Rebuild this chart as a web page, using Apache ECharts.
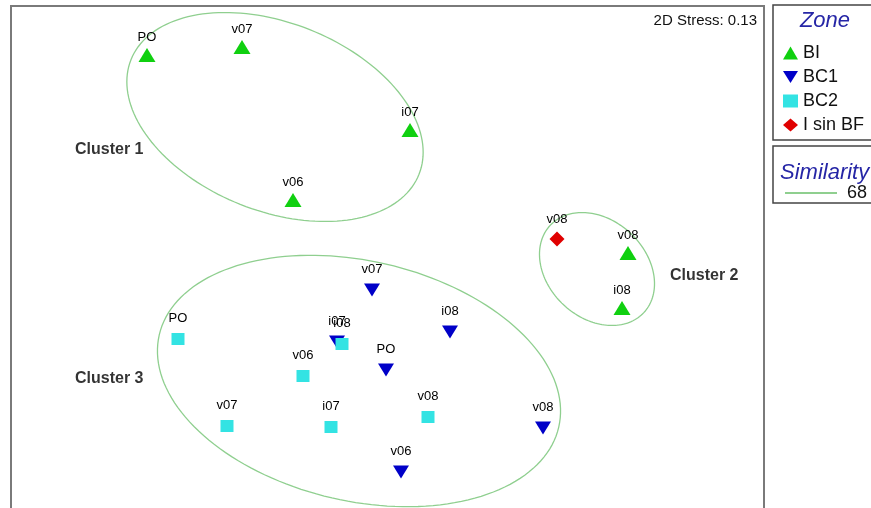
<!DOCTYPE html>
<html>
<head>
<meta charset="utf-8">
<script src="https://cdn.jsdelivr.net/npm/echarts@6/dist/echarts.min.js"></script>
<style>
html,body{margin:0;padding:0;background:#fff;}
#chart{width:871px;height:508px;}
</style>
</head>
<body>
<div id="chart"></div>
<script>
// MDS ordination coordinates (arbitrary units, y grows downward)
const biNames = ['PO', 'v07', 'i07', 'v06', 'v08', 'i08'];
const biX = [136, 231, 399, 282, 617, 611];
const biY = [49, 41, 124, 194, 247, 302];

const bc1Names = ['v07', 'i08', 'i07', 'PO', 'v08', 'v06'];
const bc1X = [361, 439, 326, 375, 532, 390];
const bc1Y = [284, 326, 336, 364, 422, 466];

const bc2Names = ['PO', 'i08', 'v06', 'v07', 'i07', 'v08'];
const bc2X = [167, 331, 292, 216, 320, 417];
const bc2Y = [333, 338, 370, 420, 421, 411];

const isbfNames = ['v08'];
const isbfX = [546];
const isbfY = [233];

// similarity (68) contours approximated as ellipses: centre, semi-axes, rotation (deg)
const clusterCx = [264, 586, 348];
const clusterCy = [111, 263, 375];
const clusterA = [155, 64, 205];
const clusterB = [94, 49, 120];
const clusterAngle = [21.7, 43, 13];

const clusterLabels = ['Cluster 1', 'Cluster 2', 'Cluster 3'];
const clusterLabelX = [64, 659, 64];
const clusterLabelY = [144, 270, 373];

const FONT = '"Liberation Sans", Arial, sans-serif';

function pts(names, xs, ys) {
  return names.map((n, i) => ({ name: n, value: [xs[i], ys[i]] }));
}

const pointLabel = (dist) => ({
  show: true, position: 'top', distance: dist, formatter: '{b}',
  fontFamily: FONT, fontSize: 13, color: '#000'
});

const chart = echarts.init(document.getElementById('chart'), null, { renderer: 'canvas' });

const option = {
  backgroundColor: '#fff',
  animation: false,
  grid: { left: 11, top: 6, width: 753, height: 502, show: false },
  xAxis: { type: 'value', min: 0, max: 753, show: false },
  yAxis: { type: 'value', min: 0, max: 502, inverse: true, show: false },
  legend: [
    {
      orient: 'vertical', left: 778, top: 39, itemGap: 6,
      itemWidth: 15, itemHeight: 13, selectedMode: false,
      textStyle: { fontFamily: FONT, fontSize: 18, color: '#111' },
      data: ['BI', 'BC1', 'BC2', 'I sin BF']
    },
    {
      orient: 'vertical', left: 780, top: 179, itemWidth: 52, itemHeight: 2,
      icon: 'rect', selectedMode: false,
      textStyle: { fontFamily: FONT, fontSize: 18, color: '#111', padding: [0, 0, 0, 5] },
      data: ['68']
    }
  ],
  graphic: [
    { type: 'polyline', shape: { points: [[11, 530], [11, 6], [764, 6], [764, 530]] },
      style: { fill: 'none', stroke: '#7a7a7a', lineWidth: 2 }, z: 100 },
    { type: 'rect', shape: { x: 773, y: 5, width: 130, height: 135 },
      style: { fill: 'none', stroke: '#444', lineWidth: 1.5 }, z: 100 },
    { type: 'rect', shape: { x: 773, y: 146, width: 130, height: 57 },
      style: { fill: 'none', stroke: '#444', lineWidth: 1.5 }, z: 100 },
    { type: 'text', x: 825, y: 21, style: { text: 'Zone', font: 'italic 22px ' + FONT,
      fill: '#2626a6', textAlign: 'center', textVerticalAlign: 'middle' }, z: 100 },
    { type: 'text', x: 780, y: 173, style: { text: 'Similarity', font: 'italic 22px ' + FONT,
      fill: '#2626a6', textAlign: 'left', textVerticalAlign: 'middle' }, z: 100 },
    { type: 'text', x: 757, y: 21, style: { text: '2D Stress: 0.13', font: '15px ' + FONT,
      fill: '#111', textAlign: 'right', textVerticalAlign: 'middle' }, z: 100 }
  ],
  series: [
    {
      name: '68', type: 'custom', z: 1,
      itemStyle: { color: '#8fcf8f' },
      dimensions: ['cx', 'cy', 'a', 'b', 'ang'],
      encode: { x: 0, y: 1 },
      data: clusterCx.map((c, i) => [c, clusterCy[i], clusterA[i], clusterB[i], clusterAngle[i]]),
      renderItem: function (params, api) {
        const cx = api.value(0), cy = api.value(1), a = api.value(2), b = api.value(3);
        const th = api.value(4) * Math.PI / 180;
        const points = [];
        for (let k = 0; k < 160; k++) {
          const t = 2 * Math.PI * k / 160;
          const x = cx + a * Math.cos(t) * Math.cos(th) - b * Math.sin(t) * Math.sin(th);
          const y = cy + a * Math.cos(t) * Math.sin(th) + b * Math.sin(t) * Math.cos(th);
          points.push(api.coord([x, y]));
        }
        return { type: 'polygon', shape: { points: points },
          style: { fill: 'none', stroke: '#8fcf8f', lineWidth: 1.3 } };
      }
    },
    {
      name: 'Clusters', type: 'scatter', symbolSize: 0, z: 3,
      data: pts(clusterLabels, clusterLabelX, clusterLabelY),
      label: { show: true, position: 'right', distance: 0, formatter: '{b}',
        fontFamily: FONT, fontSize: 16, fontWeight: 'bold', color: '#000' },
      itemStyle: { color: 'transparent' }
    },
    {
      name: 'BI', type: 'scatter', symbol: 'triangle', symbolSize: [17, 14], z: 5,
      itemStyle: { color: '#10d010', opacity: 1 },
      data: pts(biNames, biX, biY), label: pointLabel(4)
    },
    {
      name: 'BC1', type: 'scatter', symbol: 'path://M0,0L16,0L8,13Z', symbolKeepAspect: false,
      symbolSize: [16, 13], z: 5,
      itemStyle: { color: '#0000c8', opacity: 1 },
      data: pts(bc1Names, bc1X, bc1Y), label: pointLabel(8)
    },
    {
      name: 'BC2', type: 'scatter', symbol: 'rect', symbolSize: [13, 12], z: 5,
      itemStyle: { color: '#33e3e3', opacity: 1 },
      data: pts(bc2Names, bc2X, bc2Y), label: pointLabel(8)
    },
    {
      name: 'I sin BF', type: 'scatter', symbol: 'diamond', symbolSize: [15, 15], z: 5,
      itemStyle: { color: '#e00000', opacity: 1 },
      data: pts(isbfNames, isbfX, isbfY), label: pointLabel(6)
    }
  ]
};
chart.setOption(option);
</script>
</body>
</html>
